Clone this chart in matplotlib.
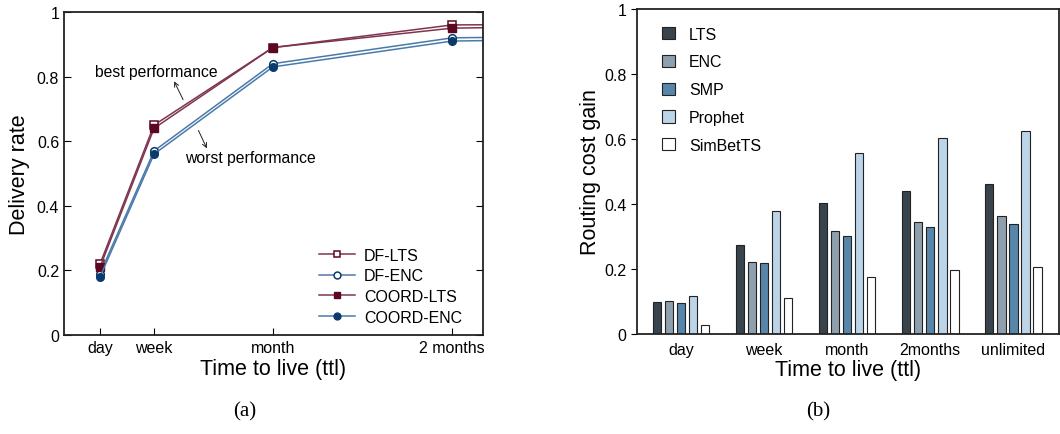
import numpy as np
import matplotlib.pyplot as plt

plt.rcParams['font.family'] = ['Liberation Sans', 'DejaVu Sans']

# --- (a) delivery rate vs ttl ---
ttl_labels = ['day', 'week', 'month', '2 months']
ttl_pos = [0, 1, 3.2, 6.52, 9.0]          # last point lies past the right edge
df_lts = [0.22, 0.65, 0.89, 0.96, 0.962]
df_enc = [0.19, 0.57, 0.84, 0.92, 0.925]
coord_lts = [0.21, 0.64, 0.89, 0.95, 0.956]
coord_enc = [0.18, 0.56, 0.83, 0.91, 0.916]

# --- (b) routing cost gain ---
groups = ['day', 'week', 'month', '2months', 'unlimited']
protocols = ['LTS', 'ENC', 'SMP', 'Prophet', 'SimBetTS']
gain = {
    'LTS':      [0.097, 0.273, 0.403, 0.441, 0.461],
    'ENC':      [0.103, 0.223, 0.316, 0.345, 0.363],
    'SMP':      [0.094, 0.219, 0.303, 0.329, 0.339],
    'Prophet':  [0.117, 0.380, 0.558, 0.603, 0.626],
    'SimBetTS': [0.027, 0.110, 0.176, 0.197, 0.206],
}
bar_colors = ['#39434c', '#8e9fad', '#5786aa', '#bcd4e8', '#ffffff']

W, H = 1060, 435
fig = plt.figure(figsize=(W / 100, H / 100), dpi=100)

RED_M, RED_L = '#5c0820', '#7e3550'
BLU_M, BLU_L = '#0b3a6c', '#4a7aaa'

# ---------------- panel (a) ----------------
ax1 = fig.add_axes([64 / W, (H - 336) / H, 419 / W, 323 / H])
ax1.plot(ttl_pos, df_lts, color=RED_L, lw=1.1, marker='s', ms=5.5,
         mfc='white', mec=RED_M, mew=1.1, label='DF-LTS')
ax1.plot(ttl_pos, df_enc, color=BLU_L, lw=1.1, marker='o', ms=5.5,
         mfc='white', mec=BLU_M, mew=1.1, label='DF-ENC')
ax1.plot(ttl_pos, coord_lts, color=RED_L, lw=1.1, marker='s', ms=5.5,
         mfc=RED_M, mec=RED_M, label='COORD-LTS')
ax1.plot(ttl_pos, coord_enc, color=BLU_L, lw=1.1, marker='o', ms=5.5,
         mfc=BLU_M, mec=BLU_M, label='COORD-ENC')
ax1.set_xlim(-0.667, 7.09)
ax1.set_ylim(0, 1)
ax1.set_xticks(ttl_pos[:4])
ax1.set_xticklabels(ttl_labels)
ax1.set_yticks([0, 0.2, 0.4, 0.6, 0.8, 1])
ax1.set_yticklabels(['0', '0.2', '0.4', '0.6', '0.8', '1'])
ax1.tick_params(direction='in', right=True, length=5, labelsize=11.5, width=0.8)
ax1.set_xlabel('Time to live (ttl)', fontsize=15.5, labelpad=2)
ax1.set_ylabel('Delivery rate', fontsize=15.5, labelpad=5)
ax1.legend(loc='lower right', frameon=False, fontsize=11.5, handlelength=2.2,
           handletextpad=0.6, labelspacing=0.35, markerscale=0.9,
           bbox_to_anchor=(0.985, -0.012))

ax1.annotate('', xy=(1.35, 0.793), xytext=(1.56, 0.721),
             arrowprops=dict(arrowstyle='->', lw=0.7, color='#222',
                             mutation_scale=8))
ax1.text(1.05, 0.817, 'best performance', ha='center', va='center', fontsize=11.3)
ax1.annotate('', xy=(2.0, 0.57), xytext=(1.80, 0.641),
             arrowprops=dict(arrowstyle='->', lw=0.7, color='#222',
                             mutation_scale=8))
ax1.text(2.78, 0.551, 'worst performance', ha='center', va='center', fontsize=11.3)

# ---------------- panel (b) ----------------
ax2 = fig.add_axes([637 / W, (H - 335) / H, 422 / W, 325 / H])
x = np.arange(len(groups))
bw, step = 0.102, 0.145
for i, (p, c) in enumerate(zip(protocols, bar_colors)):
    ax2.bar(x + (i - 2) * step, gain[p], width=bw, color=c,
            edgecolor='#222222', linewidth=0.8, label=p)
ax2.set_xlim(-0.53, 4.55)
ax2.set_ylim(0, 1)
ax2.set_xticks(x)
ax2.set_xticklabels(groups)
ax2.set_yticks([0, 0.2, 0.4, 0.6, 0.8, 1])
ax2.set_yticklabels(['0', '0.2', '0.4', '0.6', '0.8', '1'])
ax2.tick_params(axis='x', length=0, labelsize=11.5, pad=6)
ax2.tick_params(axis='y', direction='out', length=4, labelsize=11.5, width=0.8)
ax2.set_xlabel('Time to live (ttl)', fontsize=15.5, labelpad=1)
ax2.set_ylabel('Routing cost gain', fontsize=15.5, labelpad=2)
ax2.legend(loc='upper left', frameon=False, fontsize=11.5, handlelength=0.8,
           handleheight=0.8, handletextpad=0.9, labelspacing=0.8,
           bbox_to_anchor=(0.025, 0.99))

for ax in (ax1, ax2):
    for s in ax.spines.values():
        s.set_linewidth(1.3)
        s.set_color('#222222')

fig.text(245 / W, 1 - 412 / H, '(a)', ha='center', va='center',
         fontsize=15, family='Liberation Serif')
fig.text(818 / W, 1 - 412 / H, '(b)', ha='center', va='center',
         fontsize=15, family='Liberation Serif')

fig.savefig('out.png', dpi=100)
